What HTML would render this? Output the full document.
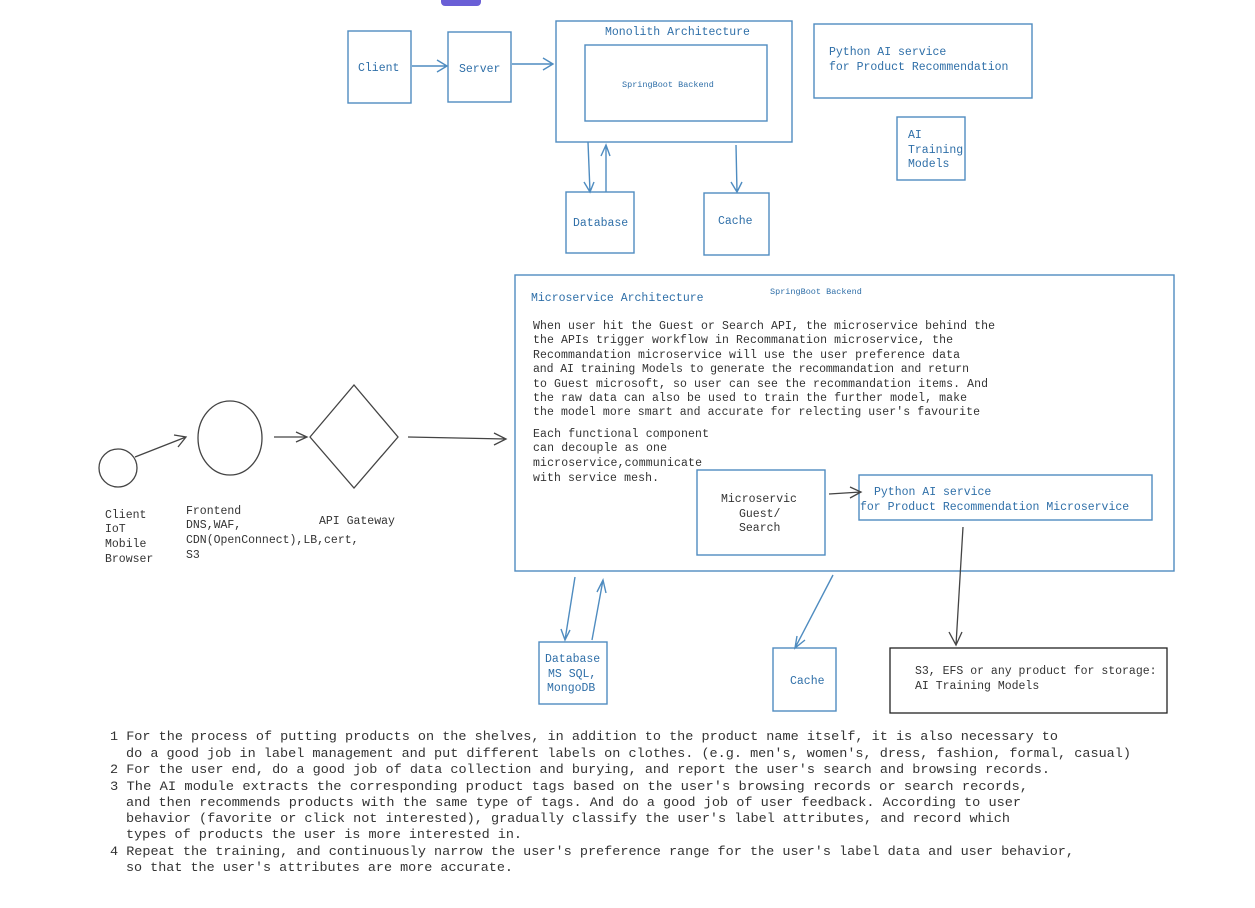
<!DOCTYPE html>
<html><head><meta charset="utf-8"><style>
html,body{margin:0;padding:0;background:#fff;}
svg{display:block;}
text{font-family:"Liberation Mono",monospace;}
.b{fill:#2f6fa8;}
.k{fill:#333;}
</style></head><body>
<svg width="1255" height="908" viewBox="0 0 1255 908" xmlns="http://www.w3.org/2000/svg">
<rect x="441" y="-6" width="40" height="12" rx="4" fill="#6a5fd6"/>
<g fill="none" stroke="#4f8cc0" stroke-width="1.4">
<rect x="348" y="31" width="63" height="72"/>
<rect x="448" y="32" width="63" height="70"/>
<rect x="556" y="21" width="236" height="121"/>
<rect x="585" y="45" width="182" height="76"/>
<rect x="814" y="24" width="218" height="74"/>
<rect x="897" y="117" width="68" height="63"/>
<rect x="566" y="192" width="68" height="61"/>
<rect x="704" y="193" width="65" height="62"/>
<rect x="515" y="275" width="659" height="296"/>
<rect x="697" y="470" width="128" height="85"/>
<rect x="859" y="475" width="293" height="45"/>
<rect x="539" y="642" width="68" height="62"/>
<rect x="773" y="648" width="63" height="63"/>
<path d="M412 66 L447 66 M437 60 L447 66 L437 72"/>
<path d="M512 64 L553 64 M543 58 L553 64 L543 70"/>
<path d="M588 142 L590 192 M584 182 L590 192 L594 182"/>
<path d="M606 192 L606 145 M601 156 L606 145 L610 156"/>
<path d="M736 145 L737 192 M731 182 L737 192 L742 182"/>
<path d="M575 577 L565 640 M561 629 L565 640 L570 630"/>
<path d="M592 640 L603 580 M597 592 L603 580 L606 593"/>
<path d="M833 575 L795 648 M797 636 L795 648 L805 640"/>
</g>
<g fill="none" stroke="#444" stroke-width="1.3">
<circle cx="118" cy="468" r="19"/>
<ellipse cx="230" cy="438" rx="32" ry="37"/>
<path d="M310 437 L354 385 L398 437 L354 488 Z"/>
<path d="M135 457 L186 437 M174 435 L186 437 L178 447"/>
<path d="M274 437 L307 437 M296 432 L307 437 L296 442"/>
<path d="M408 437 L506 439 M494 433 L506 439 L494 445"/>
<path d="M829 494 L861 492 M850 487 L861 492 L850 498"/>
<path d="M963 527 L956 645 M949 632 L956 645 L962 632"/>
<rect x="890" y="648" width="277" height="65" stroke="#222"/>
</g>
<g class="b" font-size="11.5">
<text x="358" y="71">Client</text>
<text x="459" y="72">Server</text>
<text x="605" y="35">Monolith Architecture</text>
<text x="622" y="87" font-size="8.5">SpringBoot Backend</text>
<text x="829" y="55">Python AI service</text>
<text x="829" y="70">for Product Recommendation</text>
<text x="908" y="138">AI</text>
<text x="908" y="153">Training</text>
<text x="908" y="167">Models</text>
<text x="573" y="226">Database</text>
<text x="718" y="224">Cache</text>
<text x="531" y="301">Microservice Architecture</text>
<text x="770" y="294" font-size="8.5">SpringBoot Backend</text>
<text x="874" y="495">Python AI service</text>
<text x="860" y="510">for Product Recommendation Microservice</text>
<text x="545" y="662">Database</text>
<text x="548" y="677">MS SQL,</text>
<text x="547" y="691">MongoDB</text>
<text x="790" y="684">Cache</text>
</g>
<g class="k" font-size="11.5">
<text x="533" y="329" textLength="462">When user hit the Guest or Search API, the microservice behind the</text>
<text x="533" y="343" textLength="420">the APIs trigger workflow in Recommanation microservice, the</text>
<text x="533" y="358" textLength="427">Recommandation microservice will use the user preference data</text>
<text x="533" y="372" textLength="436">and AI training Models to generate the recommandation and return</text>
<text x="533" y="387" textLength="455">to Guest microsoft, so user can see the recommandation items. And</text>
<text x="533" y="401" textLength="434">the raw data can also be used to train the further model, make</text>
<text x="533" y="415" textLength="447">the model more smart and accurate for relecting user's favourite</text>
<text x="533" y="437" textLength="176">Each functional component</text>
<text x="533" y="451" textLength="134">can decouple as one</text>
<text x="533" y="466" textLength="169">microservice,communicate</text>
<text x="533" y="481" textLength="126">with service mesh.</text>
<text x="721" y="502">Microservic</text>
<text x="739" y="517">Guest/</text>
<text x="739" y="531">Search</text>
<text x="915" y="674">S3, EFS or any product for storage:</text>
<text x="915" y="689">AI Training Models</text>
<text x="105" y="518">Client</text>
<text x="105" y="532">IoT</text>
<text x="105" y="547">Mobile</text>
<text x="105" y="562">Browser</text>
<text x="186" y="514">Frontend</text>
<text x="186" y="528">DNS,WAF,</text>
<text x="186" y="543">CDN(OpenConnect),LB,cert,</text>
<text x="186" y="558">S3</text>
<text x="319" y="524">API Gateway</text>
</g>
<g class="k" font-size="13" lengthAdjust="spacingAndGlyphs">
<text x="110" y="740" textLength="948" lengthAdjust="spacingAndGlyphs">1 For the process of putting products on the shelves, in addition to the product name itself, it is also necessary to</text>
<text x="126" y="757" textLength="1005" lengthAdjust="spacingAndGlyphs">do a good job in label management and put different labels on clothes. (e.g. men's, women's, dress, fashion, formal, casual)</text>
<text x="110" y="773" textLength="940" lengthAdjust="spacingAndGlyphs">2 For the user end, do a good job of data collection and burying, and report the user's search and browsing records.</text>
<text x="110" y="790" textLength="918" lengthAdjust="spacingAndGlyphs">3 The AI module extracts the corresponding product tags based on the user's browsing records or search records,</text>
<text x="126" y="806" textLength="895" lengthAdjust="spacingAndGlyphs">and then recommends products with the same type of tags. And do a good job of user feedback. According to user</text>
<text x="126" y="822" textLength="884" lengthAdjust="spacingAndGlyphs">behavior (favorite or click not interested), gradually classify the user's label attributes, and record which</text>
<text x="126" y="838" textLength="396" lengthAdjust="spacingAndGlyphs">types of products the user is more interested in.</text>
<text x="110" y="855" textLength="964" lengthAdjust="spacingAndGlyphs">4 Repeat the training, and continuously narrow the user's preference range for the user's label data and user behavior,</text>
<text x="126" y="871" textLength="387" lengthAdjust="spacingAndGlyphs">so that the user's attributes are more accurate.</text>
</g>
</svg>
</body></html>
